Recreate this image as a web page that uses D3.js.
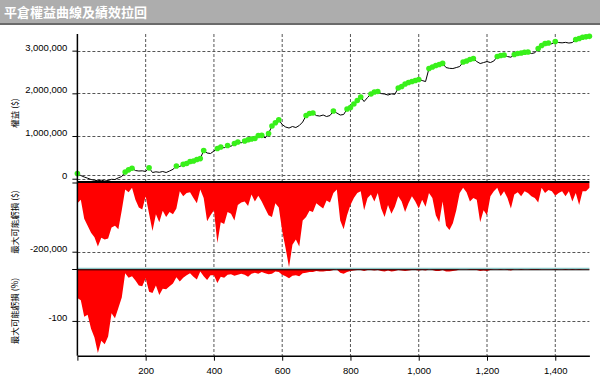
<!DOCTYPE html>
<html>
<head>
<meta charset="utf-8">
<script src="https://cdn.jsdelivr.net/npm/d3@7"></script>
<style>
	body { margin: 0; background: #fff; }
	svg text { font-family: "Liberation Sans", Arial, sans-serif; }
</style>
</head>
<body>
<div id="chart"></div>
<script>

// one sample every 10 trades (trade 0 .. 1500)
const tradeStep = 10;

// closed equity, in thousands of $
const equityK = [122,75,40,12,-19,-37,-47,-35,-54,-42,
	-14,-19,21,52,157,208,244,192,180,185,
	169,255,145,162,150,169,145,180,220,297,
	286,337,356,403,415,450,471,660,602,590,
	649,707,742,724,778,759,824,860,841,883,
	911,930,941,1012,1016,953,1059,1234,1311,1379,
	1269,1211,1187,1223,1199,1246,1328,1480,1527,1539,
	1480,1468,1492,1457,1480,1586,1539,1492,1504,1632,
	1667,1749,1831,1913,1808,1902,1984,2031,2042,1995,
	1984,1960,1988,1977,2124,2159,2218,2253,2276,2300,
	2323,2300,2276,2581,2616,2651,2675,2703,2604,2586,
	2581,2604,2628,2733,2757,2792,2815,2745,2698,2721,
	2745,2721,2757,2862,2885,2897,2862,2846,2909,2932,
	2944,2963,2967,2932,2949,3049,3120,3166,3178,3159,
	3213,3190,3183,3194,3178,3190,3260,3284,3314,3323,
	3335];

// max potential drawdown, in thousands of $
const drawdownK = [-60,-50,-105,-125,-145,-158,-185,-160,-165,-162,
	-130,-125,-135,-80,-20,-28,-15,-50,-72,-78,
	-40,-90,-140,-92,-115,-82,-100,-85,-92,-75,
	-25,-40,-30,-28,-45,-60,-20,-45,-112,-95,
	-80,-175,-115,-120,-85,-90,-110,-65,-58,-55,
	-68,-35,-55,-38,-55,-75,-95,-100,-60,-72,
	-140,-190,-245,-180,-165,-185,-110,-100,-82,-85,
	-60,-68,-75,-52,-58,-30,-20,-110,-135,-95,
	-65,-45,-30,-25,-80,-45,-35,-55,-30,-75,
	-100,-65,-90,-70,-40,-55,-85,-60,-40,-55,
	-75,-50,-70,-30,-45,-95,-115,-55,-125,-137,
	-118,-80,-30,-15,-28,-55,-45,-50,-115,-80,
	-95,-40,-25,-15,-40,-25,-45,-75,-35,-28,
	-40,-25,-30,-40,-45,-58,-15,-30,-22,-25,
	-38,-30,-25,-40,-25,-55,-30,-65,-25,-25,
	-15];

// max potential drawdown, in %
const drawdownPct = [-56,-60,-92,-88,-115,-132,-162,-138,-145,-130,
	-85,-95,-75,-55,-8,-17,-14,-22,-32,-33,
	-18,-44,-46,-32,-50,-38,-39,-33,-28,-16,
	-24,-17,-12,-8,-15,-20,-5,-14,-21,-12,
	-12,-27,-15,-17,-11,-10,-13,-11,-9,-11,
	-15,-9,-7,-9,-6,-8,-10,-9,-5,-6,
	-11,-14,-18,-13,-12,-14,-8,-7,-6,-6,
	-4,-5,-5,-4,-4,-2,-1,-7,-9,-6,
	-4,-3,-2,-2,-4,-2,-2,-3,-2,-4,
	-5,-3,-5,-4,-2,-3,-4,-3,-2,-2,
	-3,-2,-3,-1,-2,-4,-4,-2,-5,-5,
	-4,-3,-1,-1,-1,-2,-2,-2,-4,-3,
	-4,-2,-1,-1,-2,-1,-2,-3,-1,-1,
	-2,-1,-1,-2,-2,-2,-1,-1,-1,-1,
	-2,-1,-1,-2,-1,-2,-1,-2,-1,-1,
	-1];

const xTicks = [0, 200, 400, 600, 800, 1000, 1200, 1400];
const equityTicks = [0, 1000000, 2000000, 3000000];
const equityRefLine = 90000;
const drawdownTicks = [0, -200000, -250000];
const pctTicks = [0, -100];

const chartTitle = "平倉權益曲線及績效拉回";
const panelTitles = ["權益 ($)", "最大可能虧損 ($)", "最大可能虧損 (%)"];


class EquityChart {

	constructor(parentElement) {
		this.parentElement = parentElement;
		this.initVis();
	}

	initVis() {
		let vis = this;

		vis.width = 600;
		vis.height = 377;

		vis.svg = d3.select("#" + vis.parentElement).append("svg")
			.attr("width", vis.width)
			.attr("height", vis.height);

		vis.svg.append("rect")
			.attr("width", vis.width)
			.attr("height", vis.height)
			.attr("fill", "#fff");

		// title bar
		vis.svg.append("rect")
			.attr("width", vis.width)
			.attr("height", 23)
			.attr("fill", "#adadad");
		vis.svg.append("rect")
			.attr("y", 23)
			.attr("width", vis.width)
			.attr("height", 2)
			.attr("fill", "#6a6a6a");
		vis.svg.append("text")
			.attr("x", 4)
			.attr("y", 17)
			.attr("fill", "#fff")
			.style("font-family", "'Noto Sans CJK TC', sans-serif")
			.style("font-size", "13px")
			.style("font-weight", "bold")
			.text(chartTitle);

		vis.left = 77.4;
		vis.right = 589.4;
		vis.top = 34;
		vis.bottom = 355.7;

		// Scales
		vis.x = d3.scaleLinear().domain([0, 1500]).range([vis.left, vis.right]);
		vis.yEq = d3.scaleLinear().domain([-77000, 3390000]).range([182, vis.top]);
		vis.yDd = d3.scaleLinear().domain([-250000, 0]).range([269, 182.5]);
		vis.yPct = d3.scaleLinear().domain([-167, 0]).range([vis.bottom, 269]);

		vis.fmt = d3.formatLocale({decimal: ".", thousands: ",", grouping: [3], currency: ["$", ""], minus: "-"}).format(",");

		vis.wrangleData();
	}

	wrangleData() {
		let vis = this;

		vis.displayData = equityK.map((e, i) => ({
			trade: i * tradeStep,
			equity: e * 1000,
			dd: drawdownK[i] * 1000,
			pct: drawdownPct[i]
		}));

		// new equity highs get a green marker
		let peak = -Infinity;
		vis.highs = vis.displayData.filter(d => {
			if (d.equity > peak) { peak = d.equity; return true; }
			return false;
		});

		vis.updateVis();
	}

	updateVis() {
		let vis = this;
		let gridColor = "#555";

		// vertical grid
		vis.svg.append("g").selectAll("line")
			.data(xTicks.filter(d => d > 0))
			.enter().append("line")
			.attr("x1", d => vis.x(d)).attr("x2", d => vis.x(d))
			.attr("y1", vis.top).attr("y2", vis.bottom)
			.attr("stroke", gridColor)
			.attr("stroke-dasharray", "3,2");

		// horizontal grid
		let hGrid = [];
		equityTicks.forEach(v => hGrid.push(vis.yEq(v)));
		hGrid.push(vis.yEq(equityRefLine));
		hGrid.push(vis.yDd(-200000));
		hGrid.push(vis.yPct(-100));
		vis.svg.append("g").selectAll("line")
			.data(hGrid)
			.enter().append("line")
			.attr("x1", vis.left).attr("x2", vis.right)
			.attr("y1", d => Math.round(d) + 0.5).attr("y2", d => Math.round(d) + 0.5)
			.attr("stroke", gridColor)
			.attr("stroke-dasharray", "3,2");

		// drawdown areas
		let ddArea = d3.area()
			.x(d => vis.x(d.trade))
			.y0(vis.yDd(0))
			.y1(d => vis.yDd(d.dd));
		vis.svg.append("path")
			.datum(vis.displayData)
			.attr("d", ddArea)
			.attr("fill", "#ff0000");

		let pctArea = d3.area()
			.x(d => vis.x(d.trade))
			.y0(vis.yPct(0))
			.y1(d => vis.yPct(d.pct));
		vis.svg.append("path")
			.datum(vis.displayData)
			.attr("d", pctArea)
			.attr("fill", "#ff0000");

		// panel dividers
		vis.svg.append("line")
			.attr("x1", vis.left).attr("x2", vis.right)
			.attr("y1", 182).attr("y2", 182)
			.attr("stroke", "#000").attr("stroke-width", 2);
		vis.svg.append("line")
			.attr("x1", vis.left).attr("x2", vis.right)
			.attr("y1", 268.5).attr("y2", 268.5)
			.attr("stroke", "#8cc6c6").attr("stroke-width", 1.5);
		vis.svg.append("line")
			.attr("x1", vis.left).attr("x2", vis.right)
			.attr("y1", 269.8).attr("y2", 269.8)
			.attr("stroke", "#000").attr("stroke-width", 1);

		// equity curve + new highs
		let line = d3.line()
			.x(d => vis.x(d.trade))
			.y(d => vis.yEq(d.equity));
		vis.svg.append("path")
			.datum(vis.displayData)
			.attr("d", line)
			.attr("fill", "none")
			.attr("stroke", "#000")
			.attr("stroke-width", 1);

		vis.svg.append("g").selectAll("circle")
			.data(vis.highs)
			.enter().append("circle")
			.attr("cx", d => vis.x(d.trade))
			.attr("cy", d => vis.yEq(d.equity))
			.attr("r", 2.8)
			.attr("fill", "#38f01a");

		// axes
		let xAxis = d3.axisBottom(vis.x)
			.tickValues(xTicks)
			.tickSize(5)
			.tickSizeOuter(0)
			.tickFormat(d => d === 0 ? "" : vis.fmt(d));
		let gx = vis.svg.append("g")
			.attr("transform", "translate(0," + vis.bottom + ")")
			.call(xAxis);
		gx.select(".domain").attr("stroke-width", 1.5);
		gx.selectAll("text").attr("dy", "1.05em");

		let yAxes = [
			[vis.yEq, equityTicks, d => vis.fmt(d)],
			[vis.yDd, drawdownTicks, d => d === -200000 ? vis.fmt(d) : ""],
			[vis.yPct, pctTicks, d => d === -100 ? vis.fmt(d) : ""]
		];
		yAxes.forEach(a => {
			let g = vis.svg.append("g")
				.attr("transform", "translate(" + vis.left + ",0)")
				.call(d3.axisLeft(a[0]).tickValues(a[1]).tickSize(5).tickSizeOuter(0).tickFormat(a[2]));
			g.select(".domain").remove();
			g.selectAll("text").attr("dy", "-0.05em").attr("x", -10);
		});

		vis.svg.selectAll(".tick text")
			.style("font-size", "9.5px")
			.attr("fill", "#000");

		vis.svg.append("line")
			.attr("x1", vis.left).attr("x2", vis.left)
			.attr("y1", vis.top).attr("y2", vis.bottom)
			.attr("stroke", "#000").attr("stroke-width", 1.5);

		// panel titles
		let titlePos = [113, 222, 311];
		panelTitles.forEach((t, i) => {
			vis.svg.append("text")
				.attr("transform", "translate(18," + titlePos[i] + ") rotate(-90)")
				.attr("text-anchor", "middle")
				.style("font-family", "'Noto Sans CJK TC', sans-serif")
				.style("font-size", "8.5px")
				.text(t);
		});
	}
}

new EquityChart("chart");

</script>
</body>
</html>
